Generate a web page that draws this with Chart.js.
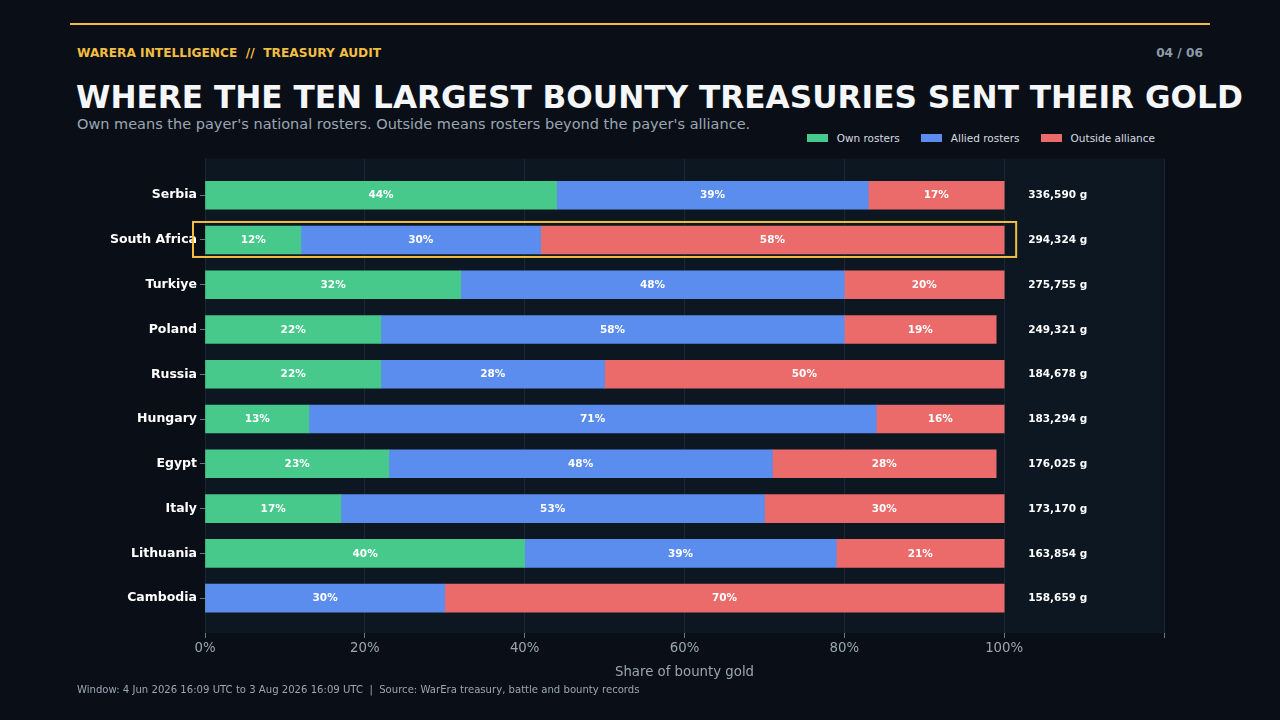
<!DOCTYPE html>
<html>
<head>
<meta charset="utf-8">
<script src="https://cdn.jsdelivr.net/npm/chart.js@4/dist/chart.umd.min.js"></script>
<style>
  html, body { margin:0; padding:0; background:#0a0f17; width:1280px; height:720px; overflow:hidden; font-family:"DejaVu Sans", sans-serif; }
  .topline { position:absolute; left:70px; top:23px; width:1140px; height:2px; background:#f2be42; }
  .kicker { position:absolute; left:77px; top:46px; font-size:12.2px; font-weight:bold; color:#f2be42; white-space:pre; }
  .page { position:absolute; right:77px; top:46px; font-size:12.2px; font-weight:bold; color:#8d9aa7; }
  .title { position:absolute; left:76px; top:79px; font-size:31.2px; font-weight:bold; color:#f4f6f8; white-space:nowrap; }
  .sub { position:absolute; left:77px; top:116px; font-size:14.5px; color:#9aa6b2; white-space:nowrap; }
  .legend { position:absolute; right:125px; top:132px; display:flex; gap:21px; font-size:10.5px; color:#d6dbe0; }
  .legend span.item { display:flex; align-items:center; }
  .legend i { display:inline-block; width:21px; height:8px; margin-right:9px; }
  .foot { position:absolute; left:77px; top:684px; font-size:10.1px; color:#9aa6b2; white-space:pre; }
  #wrap { position:absolute; left:0; top:148px; width:1280px; height:540px; }
</style>
</head>
<body>
<div class="topline"></div>
<div class="kicker">WARERA INTELLIGENCE  //  TREASURY AUDIT</div>
<div class="page">04 / 06</div>
<div class="title">WHERE THE TEN LARGEST BOUNTY TREASURIES SENT THEIR GOLD</div>
<div class="sub">Own means the payer's national rosters. Outside means rosters beyond the payer's alliance.</div>
<div class="legend" id="legend"></div>
<div id="wrap"><canvas id="c" width="1280" height="540"></canvas></div>
<div class="foot">Window: 4 Jun 2026 16:09 UTC to 3 Aug 2026 16:09 UTC  |  Source: WarEra treasury, battle and bounty records</div>
<script>
const categories = ["Serbia","South Africa","Turkiye","Poland","Russia","Hungary","Egypt","Italy","Lithuania","Cambodia"];
const ownShare     = [44, 12, 32, 22, 22, 13, 23, 17, 40, 0];
const alliedShare  = [39, 30, 48, 58, 28, 71, 48, 53, 39, 30];
const outsideShare = [17, 58, 20, 19, 50, 16, 28, 30, 21, 70];
const totalGold    = [336590, 294324, 275755, 249321, 184678, 183294, 176025, 173170, 163854, 158659];
const xTicks = [0, 20, 40, 60, 80, 100, 120];
const highlighted = "South Africa";

const seriesNames = ["Own rosters", "Allied rosters", "Outside alliance"];
const seriesColors = ["#47c98b", "#5b8dee", "#eb6a6a"];

const legend = document.getElementById('legend');
seriesNames.forEach((n, i) => {
  const s = document.createElement('span'); s.className = 'item';
  s.innerHTML = '<i style="background:' + seriesColors[i] + '"></i>' + n;
  legend.appendChild(s);
});

const FONT = '"DejaVu Sans", sans-serif';
const toPts = arr => arr.map((v, i) => ({ x: v, y: i }));

const bgPlugin = {
  id: 'bg',
  beforeDraw(chart) {
    const { ctx, chartArea: a } = chart;
    ctx.save();
    ctx.fillStyle = '#0d1722';
    ctx.fillRect(a.left, a.top, a.right - a.left, a.bottom - a.top);
    ctx.restore();
  }
};

const labelPlugin = {
  id: 'labels',
  afterDatasetsDraw(chart) {
    const { ctx } = chart;
    const xs = chart.scales.x, ys = chart.scales.y;
    ctx.save();
    ctx.font = 'bold 10.5px ' + FONT;
    ctx.fillStyle = '#ffffff';
    ctx.textAlign = 'center';
    ctx.textBaseline = 'middle';
    chart.data.datasets.forEach((ds, di) => {
      const meta = chart.getDatasetMeta(di);
      meta.data.forEach((el, i) => {
        const v = ds.data[i].x;
        if (v >= 5) ctx.fillText(v + '%', (el.x + el.base) / 2, el.y + 0.5);
      });
    });
    ctx.textAlign = 'left';
    totalGold.forEach((t, i) => {
      ctx.fillText(t.toLocaleString('en-US') + ' g', xs.getPixelForValue(100) + 24, ys.getPixelForValue(i) + 0.5);
    });
    const hi = categories.indexOf(highlighted);
    if (hi >= 0) {
      const y = ys.getPixelForValue(hi);
      ctx.strokeStyle = '#f2be42';
      ctx.lineWidth = 2;
      ctx.strokeRect(xs.getPixelForValue(0) - 12, y - 18, xs.getPixelForValue(100) - xs.getPixelForValue(0) + 24, 35);
    }
    ctx.restore();
  }
};

new Chart(document.getElementById('c'), {
  type: 'bar',
  data: {
    datasets: [
      { label: seriesNames[0], data: toPts(ownShare), backgroundColor: seriesColors[0] },
      { label: seriesNames[1], data: toPts(alliedShare), backgroundColor: seriesColors[1] },
      { label: seriesNames[2], data: toPts(outsideShare), backgroundColor: seriesColors[2] }
    ]
  },
  options: {
    indexAxis: 'y',
    responsive: false,
    animation: false,
    barThickness: 28,
    layout: { padding: { top: 10, right: 116, bottom: 3, left: 0 } },
    plugins: { legend: { display: false }, tooltip: { enabled: false } },
    scales: {
      x: {
        type: 'linear', stacked: true, min: 0, max: 120,
        afterBuildTicks: s => { s.ticks = xTicks.map(v => ({ value: v })); },
        afterFit: s => { s.height = 52; },
        border: { display: false },
        grid: { color: '#1c2733', tickColor: '#6b7782', tickLength: 5, lineWidth: 1 },
        ticks: { color: '#9aa6b2', font: { family: FONT, size: 13.3 }, padding: 3,
                 callback: v => v <= 100 ? v + '%' : '' },
        title: { display: true, text: 'Share of bounty gold', color: '#9aa6b2',
                 font: { family: FONT, size: 13.3 }, padding: { top: 4, bottom: 4 } }
      },
      y: {
        type: 'linear', stacked: true, reverse: true, min: -0.82, max: 9.78, offset: false,
        afterBuildTicks: s => { s.ticks = categories.map((c, i) => ({ value: i })); },
        afterFit: s => { s.width = 205; },
        border: { display: false },
        grid: { offset: false, drawOnChartArea: false, tickColor: '#6b7782', tickLength: 5 },
        ticks: { color: '#ffffff', font: { family: FONT, size: 12.5, weight: 'bold' }, padding: 3,
                 callback: v => categories[v] }
      }
    }
  },
  plugins: [bgPlugin, labelPlugin]
});
</script>
</body>
</html>
